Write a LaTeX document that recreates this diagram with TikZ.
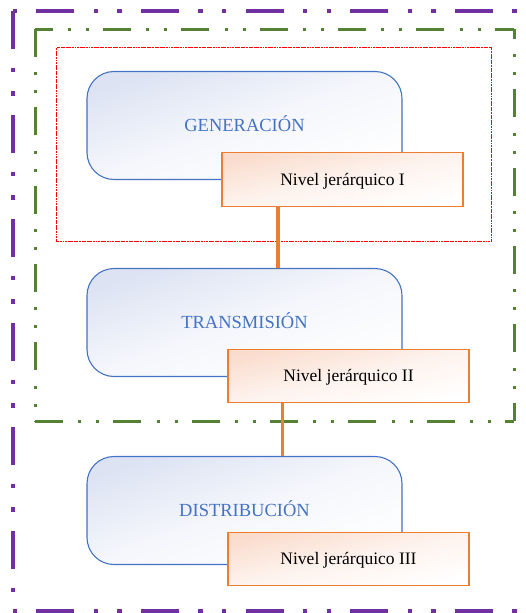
\documentclass[tikz,border=0pt]{standalone}
\usepackage{fontspec}
\setmainfont{Liberation Serif}
\definecolor{frameviolet}{HTML}{7030A0}
\definecolor{framegreen}{HTML}{548235}
\definecolor{framered}{HTML}{FF0000}
\definecolor{accblue}{HTML}{4472C4}
\definecolor{accorange}{HTML}{ED7D31}
\definecolor{bluetint}{HTML}{DDE3F3}
\definecolor{orangetint}{HTML}{FADCCD}
\tikzset{
  violetline/.style={draw=frameviolet, line width=4pt},
  violeth/.style={violetline, dash pattern=on 38pt off 19.3pt on 4.4pt off 19.3pt on 4.4pt off 19.2pt},
  violetv/.style={violetline, dash pattern=on 38pt off 19pt on 4.5pt off 19pt on 4.5pt off 19pt},
  greenline/.style={draw=framegreen, line width=3pt,
    dash pattern=on 28pt off 15.3pt on 3pt off 15pt on 3pt off 14pt},
  redframe/.style={draw=framered, line width=1.4pt,
    dash pattern=on 2.5pt off 0.6pt on 1pt off 0.6pt},
  stage/.style={draw=accblue, line width=1.1pt, rounded corners=27pt,
    top color=bluetint, bottom color=white, middle color=bluetint!30!white,
    shading angle=19,
    minimum width=315pt, minimum height=108pt, inner sep=0pt,
    text=accblue, font=\fontsize{18.5}{22}\selectfont,
    text height=12.2pt, text depth=0pt},
  level/.style={draw=accorange, line width=1.3pt,
    top color=orangetint, bottom color=white, middle color=orangetint!35!white,
    shading angle=12.5,
    minimum width=241pt, minimum height=53.5pt, inner sep=0pt,
    text=black, font=\fontsize{17.5}{21}\selectfont,
    text height=11.6pt, text depth=0pt},
  link/.style={draw=accorange, line width=3.5pt}
}
\begin{document}
\begin{tikzpicture}[x=1pt, y=-1pt]
  \useasboundingbox (0,0) rectangle (526,613);
  \begin{scope}
    \clip (0,0) rectangle (526,613);
    % outer violet frame, each side with its own dash phase
    \draw[violeth, dash phase=81.2pt] (13,10.5) -- (536,10.5);
    \draw[violetv] (13,10.5) -- (13,610.5);
    \draw[violeth, dash phase=81.2pt] (13,610.5) -- (536,610.5);
    \draw[violetv] (536,10.5) -- (536,610.5);
  \end{scope}
  % green frame
  \draw[greenline, dash phase=10.3pt] (35,29) -- (514,29);
  \draw[greenline] (35,29) -- (35,421);
  \draw[greenline] (35,421) -- (514,421);
  \draw[greenline, dash phase=18pt] (514,29) -- (514,421);
  % red frame
  \draw[redframe] (56.7,47.5) rectangle (491.7,241.7);

  % stages
  \node[stage] (gen) at (244.5,125.5) {GENERACIÓN};
  \node[stage] (tra) at (244.5,322.5) {TRANSMISIÓN};
  \node[stage] (dis) at (244.5,510.5) {DISTRIBUCIÓN};

  % hierarchy levels
  \node[level] (n1) at (342.5,179.4) {Nivel jerárquico I};
  \node[level] (n2) at (348.5,376) {Nivel jerárquico II};
  \node[level] (n3) at (348.5,559) {Nivel jerárquico III};

  % connectors
  \coordinate (c1) at ([xshift=-64.5pt]n1.south);
  \coordinate (c2) at ([xshift=-66pt]n2.south);
  \draw[link] (c1) -- (c1 |- tra.north);
  \draw[link] (c2) -- (c2 |- dis.north);
\end{tikzpicture}
\end{document}
